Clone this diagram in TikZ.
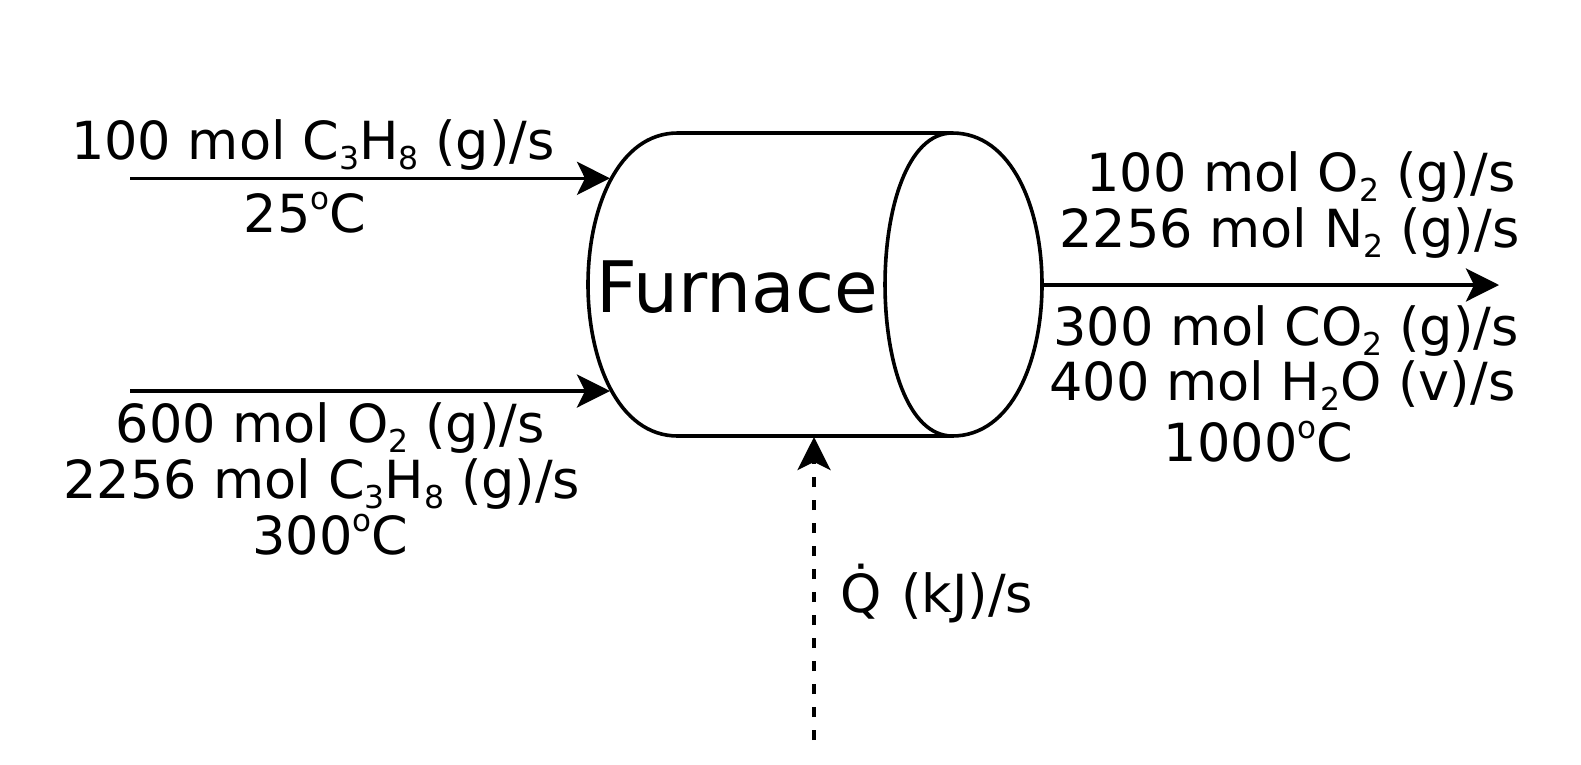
\documentclass[tikz,border=0pt]{standalone}
\usepackage{fontspec}
\setmainfont{DejaVu Sans}
\usetikzlibrary{arrows.meta}
\newcommand\sbs[1]{\raisebox{-10pt}{\fontsize{31.5}{31.5}\selectfont #1}}
\newcommand\dgr{\raisebox{23pt}{\fontsize{31}{31}\selectfont o}}
\tikzset{
  lbl/.style={anchor=base, inner sep=0pt, font=\fontsize{52.5}{60}\selectfont},
  flow/.style={line width=3.6pt, -{Stealth[length=33pt,width=33pt,inset=8pt]}},
  heat/.style={flow, dash pattern=on 10pt off 13pt},
  vessel/.style={line width=3.6pt, line join=round},
}
\begin{document}
\begin{tikzpicture}[x=1pt,y=-1pt]
\useasboundingbox[fill=white] (0,0) rectangle (1581,764);
% furnace (cylinder lying on its side)
\draw[vessel] (952.3,133) .. controls (1071.9,133) and (1071.9,436) .. (952.3,436)
  -- (677.7,436) .. controls (558.1,436) and (558.1,133) .. (677.7,133) -- cycle;
\draw[vessel] (952.3,133) .. controls (862.6,133) and (862.6,436) .. (952.3,436);
\node[anchor=base, inner sep=0pt, font=\fontsize{71}{80}\selectfont] (furnace) at (737.5,312) {Furnace};
% connector end points
\coordinate (s1) at (130,178.3);
\coordinate (t1) at (610,178.3);
\coordinate (s2) at (130,391);
\coordinate (t2) at (610,391);
\coordinate (s3) at (1043,285);
\coordinate (t3) at (1499,285);
\coordinate (s4) at (814,740);
\coordinate (t4) at (814,437);
\draw[flow] (s1) -- (t1);
\draw[flow] (s2) -- (t2);
\draw[flow] (s3) -- (t3);
\draw[heat] (s4) -- (t4);
% labels
\node[lbl] (a1) at (313,159.5) {100 mol C\sbs{3}H\sbs{8} (g)/s};
\node[lbl] (a2) at (305,232.7) {25\dgr C};
\node[lbl] (b1) at (330.3,442.7) {600 mol O\sbs{2} (g)/s};
\node[lbl] (b2) at (321.8,498.3) {2256 mol C\sbs{3}H\sbs{8} (g)/s};
\node[lbl] (b3) at (330.5,554) {300\dgr C};
\node[lbl] (c1) at (1301,191.7) {100 mol O\sbs{2} (g)/s};
\node[lbl] (c2) at (1289.4,247.3) {2256 mol N\sbs{2} (g)/s};
\node[lbl] (d1) at (1286,345) {300 mol CO\sbs{2} (g)/s};
\node[lbl] (d2) at (1282.5,400) {400 mol H\sbs{2}O (v)/s};
\node[lbl] (d3) at (1258.5,461.7) {1000\dgr C};
\node[lbl] (q) at (936.7,612) {\.{Q}\hspace{3pt} (kJ)/s};
\end{tikzpicture}
\end{document}
